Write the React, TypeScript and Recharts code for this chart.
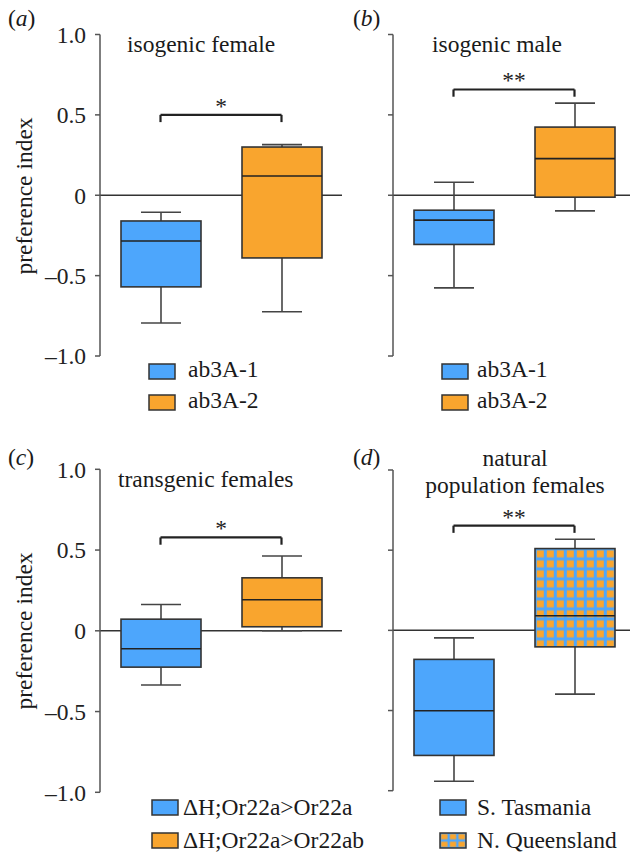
import React from 'react';
import { ComposedChart, Bar, XAxis, YAxis, ReferenceLine, CartesianGrid } from 'recharts';

// ---------- data ----------
const groupsA = ['ab3A-1', 'ab3A-2'];
const minA = [-0.795, -0.725];
const q1A = [-0.57, -0.39];
const medA = [-0.285, 0.12];
const q3A = [-0.16, 0.3];
const maxA = [-0.106, 0.315];

const groupsB = ['ab3A-1', 'ab3A-2'];
const minB = [-0.576, -0.097];
const q1B = [-0.306, -0.012];
const medB = [-0.155, 0.228];
const q3B = [-0.093, 0.424];
const maxB = [0.081, 0.573];

const groupsC = ['ΔH;Or22a>Or22a', 'ΔH;Or22a>Or22ab'];
const minC = [-0.336, 0.0];
const q1C = [-0.225, 0.025];
const medC = [-0.111, 0.192];
const q3C = [0.072, 0.328];
const maxC = [0.163, 0.463];

const groupsD = ['S. Tasmania', 'N. Queensland'];
const minD = [-0.941, -0.398];
const q1D = [-0.78, -0.103];
const medD = [-0.501, 0.091];
const q3D = [-0.181, 0.51];
const maxD = [-0.047, 0.568];

const bracketLevels = [0.5, 0.658, 0.578, 0.653];
const significance = ['*', '**', '*', '**'];
const panelTitles = [['isogenic female'], ['isogenic male'], ['transgenic females'], ['natural', 'population females']];
const panelLetters = ['a', 'b', 'c', 'd'];
const yTicks = [-1, -0.5, 0, 0.5, 1];
const zeroLine = [0];

// ---------- style ----------
const BLUE = '#4da6fc';
const ORANGE = '#f9a52e';
const FONT = "'Liberation Serif', 'Times New Roman', Times, serif";
const FS = 23.5;

const build = (g: string[], mn: number[], q1: number[], md: number[], q3: number[], mx: number[]) =>
  g.map((name, i) => ({ name, min: mn[i], q1: q1[i], median: md[i], q3: q3[i], max: mx[i] }));

const dataA = build(groupsA, minA, q1A, medA, q3A, maxA);
const dataB = build(groupsB, minB, q1B, medB, q3B, maxB);
const dataC = build(groupsC, minC, q1C, medC, q3C, maxC);
const dataD = build(groupsD, minD, q1D, medD, q3D, maxD);

const makeBox = (patterned: boolean, pid: string) => (props: any) => {
  const { x, y, width, height, payload, index } = props;
  const p = payload;
  const span = p.max - p.min;
  const pix = (v: number) => y + ((p.max - v) / (span || 1)) * height;
  const cx = x + width / 2;
  const capW = width / 2;
  const top = pix(p.q3);
  const bot = pix(p.q1);
  const med = pix(p.median);
  const usePattern = patterned && index === 1;
  const fill = usePattern ? `url(#${pid})` : index === 0 ? BLUE : ORANGE;
  return (
    <g>
      {usePattern && (
        <defs>
          <pattern id={pid} patternUnits="userSpaceOnUse" x={x} y={top} width={10} height={10}>
            <rect x={0} y={0} width={10} height={10} fill={BLUE} />
            <rect x={1.8} y={1.8} width={7} height={7} fill={ORANGE} />
          </pattern>
        </defs>
      )}
      <line x1={cx} x2={cx} y1={pix(p.max)} y2={pix(p.min)} stroke="#444" strokeWidth={1.6} />
      <line x1={cx - capW / 2} x2={cx + capW / 2} y1={pix(p.max)} y2={pix(p.max)} stroke="#444" strokeWidth={1.6} />
      <line x1={cx - capW / 2} x2={cx + capW / 2} y1={pix(p.min)} y2={pix(p.min)} stroke="#444" strokeWidth={1.6} />
      <rect x={x} y={top} width={width} height={bot - top} fill={fill} stroke="#333" strokeWidth={1.6} />
      <line x1={x} x2={x + width} y1={med} y2={med} stroke="#222" strokeWidth={1.6} />
    </g>
  );
};

const fmt = (v: number) => (v === 0 ? '0' : v.toFixed(1).replace('-', '\u2013'));

type PanelProps = {
  data: any[];
  idx: number;
  left: number;
  top: number;
  width: number;
  height: number;
  axisW: number;
  mTop: number;
  mBottom: number;
  labels: boolean;
  patterned?: boolean;
};

const Panel = ({ data, idx, left, top, width, height, axisW, mTop, mBottom, labels, patterned }: PanelProps) => {
  const lvl = bracketLevels[idx];
  const drop = 0.045;
  const c0 = data[0].name;
  const c1 = data[1].name;
  return (
    <div style={{ position: 'absolute', left, top }}>
      <ComposedChart
        width={width}
        height={height}
        data={data}
        margin={{ top: mTop, right: 0, bottom: mBottom, left: 0 }}
        style={{ fontFamily: FONT }}
      >
        <CartesianGrid
          vertical={false}
          horizontal
          horizontalValues={zeroLine}
          stroke="#333"
          strokeWidth={1.5}
        />
        <XAxis dataKey="name" type="category" hide padding={{ left: 0, right: 0 }} />
        <YAxis
          type="number"
          domain={[-1, 1]}
          ticks={yTicks}
          interval={0}
          width={axisW}
          allowDataOverflow
          axisLine={{ stroke: '#555', strokeWidth: 1.5 }}
          tickLine={{ stroke: '#555', strokeWidth: 1.5 }}
          tickSize={5}
          tickMargin={9}
          tick={{ fill: '#222', fontSize: FS, fontFamily: FONT }}
          tickFormatter={labels ? fmt : () => ''}
        />
        <Bar
          dataKey={(d: any) => [d.min, d.max]}
          barSize={80}
          isAnimationActive={false}
          shape={makeBox(!!patterned, `grid-${idx}`)}
        />
        <ReferenceLine
          segment={[{ x: c0, y: lvl }, { x: c1, y: lvl }]}
          stroke="#222"
          strokeWidth={2.2}
          ifOverflow="visible"
          label={{ value: significance[idx], position: 'top', offset: 1, fill: '#222', fontSize: FS, fontFamily: FONT }}
        />
        <ReferenceLine segment={[{ x: c0, y: lvl }, { x: c0, y: lvl - drop }]} stroke="#222" strokeWidth={2.2} ifOverflow="visible" />
        <ReferenceLine segment={[{ x: c1, y: lvl }, { x: c1, y: lvl - drop }]} stroke="#222" strokeWidth={2.2} ifOverflow="visible" />
      </ComposedChart>
    </div>
  );
};

const Overlay = () => {
  const txt = { fontFamily: FONT, fontSize: FS, fill: '#1a1a1a' } as const;
  const legendRows = [
    { sx: 149, tx: 188, ys: [364, 395], bs: [377, 408], names: groupsA, pat: false },
    { sx: 442, tx: 477, ys: [364, 395], bs: [377, 408], names: groupsB, pat: false },
    { sx: 152, tx: 183, ys: [800, 833], bs: [815, 848], names: groupsC, pat: false },
    { sx: 440, tx: 477, ys: [800, 833], bs: [815, 848], names: groupsD, pat: true },
  ];
  return (
    <svg width={630} height={852} style={{ position: 'absolute', left: 0, top: 0, pointerEvents: 'none' }}>
      <defs>
        <pattern id="legend-grid" patternUnits="userSpaceOnUse" x={440} y={833} width={8.67} height={7.5}>
          <rect x={0} y={0} width={8.67} height={7.5} fill={BLUE} />
          <rect x={1.2} y={1.2} width={6.3} height={5.1} fill={ORANGE} />
        </pattern>
      </defs>
      {/* panel letters */}
      <text x={8} y={26} style={txt}>(<tspan fontStyle="italic">{panelLetters[0]}</tspan>)</text>
      <text x={353} y={26} style={txt}>(<tspan fontStyle="italic">{panelLetters[1]}</tspan>)</text>
      <text x={8} y={465} style={txt}>(<tspan fontStyle="italic">{panelLetters[2]}</tspan>)</text>
      <text x={353} y={465} style={txt}>(<tspan fontStyle="italic">{panelLetters[3]}</tspan>)</text>
      {/* titles */}
      <text x={127} y={52} style={txt}>{panelTitles[0][0]}</text>
      <text x={432} y={52} style={txt}>{panelTitles[1][0]}</text>
      <text x={118} y={487} style={txt}>{panelTitles[2][0]}</text>
      <text x={515} y={466} textAnchor="middle" style={txt}>{panelTitles[3][0]}</text>
      <text x={515} y={493} textAnchor="middle" style={txt}>{panelTitles[3][1]}</text>
      {/* y labels */}
      <text x={0} y={0} textAnchor="middle" transform="translate(32,196) rotate(-90)" style={txt}>preference index</text>
      <text x={0} y={0} textAnchor="middle" transform="translate(32,631) rotate(-90)" style={txt}>preference index</text>
      {/* legends */}
      {legendRows.map((r, i) => (
        <g key={i}>
          {r.names.map((n, j) => (
            <g key={j}>
              <rect
                x={r.sx}
                y={r.ys[j]}
                width={26}
                height={15}
                fill={j === 0 ? BLUE : r.pat ? 'url(#legend-grid)' : ORANGE}
                stroke="#333"
                strokeWidth={1.5}
              />
              <text x={r.tx} y={r.bs[j]} style={txt}>{n}</text>
            </g>
          ))}
        </g>
      ))}
    </svg>
  );
};

export default function App() {
  return (
    <div style={{ position: 'absolute', left: 0, top: 0, width: 630, height: 852, overflow: 'hidden', background: '#fff' }}>
      <Panel data={dataA} idx={0} left={0} top={0} width={342} height={420} axisW={100} mTop={34.5} mBottom={64} labels />
      <Panel data={dataB} idx={1} left={315} top={0} width={320} height={420} axisW={78} mTop={34.5} mBottom={64} labels={false} />
      <Panel data={dataC} idx={2} left={0} top={420} width={342} height={432} axisW={100} mTop={49.3} mBottom={59.7} labels />
      <Panel data={dataD} idx={3} left={315} top={420} width={320} height={432} axisW={78} mTop={50} mBottom={61.3} labels={false} patterned />
      <Overlay />
    </div>
  );
}
